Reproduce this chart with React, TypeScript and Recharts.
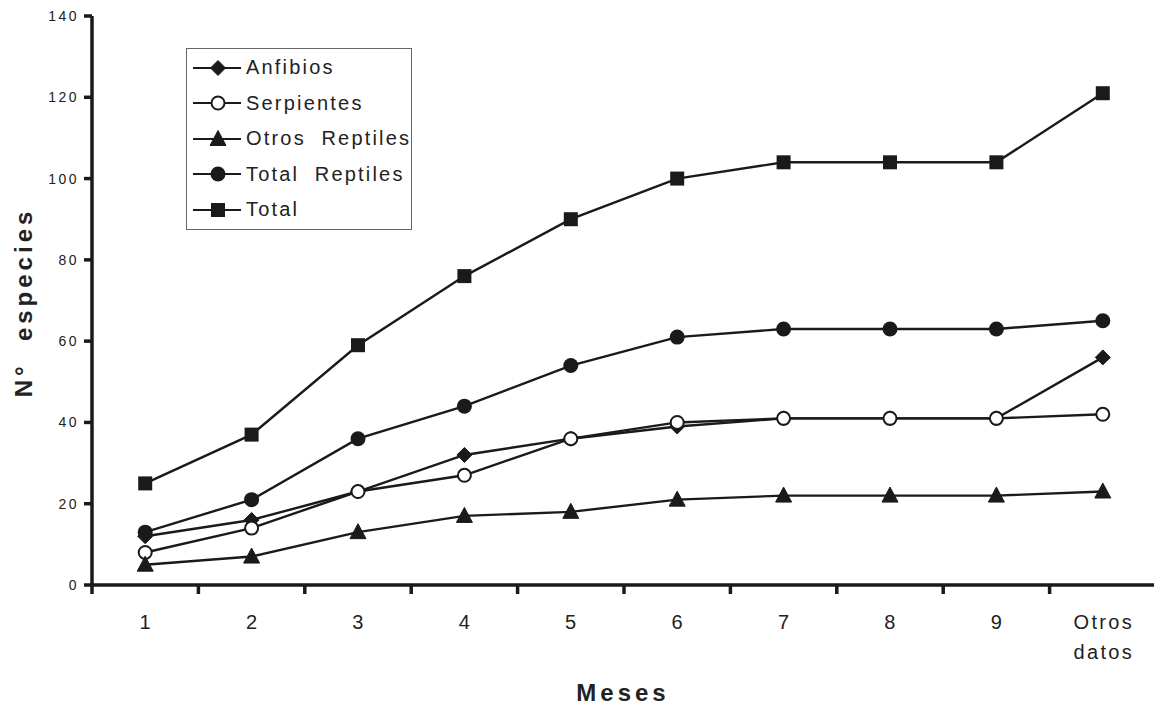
import React from "react";
import { LineChart, Line, XAxis, YAxis, Legend, Label } from "recharts";

const categories = ["1", "2", "3", "4", "5", "6", "7", "8", "9", "Otros datos"];
const anfibios = [12, 16, 23, 32, 36, 39, 41, 41, 41, 56];
const serpientes = [8, 14, 23, 27, 36, 40, 41, 41, 41, 42];
const otrosReptiles = [5, 7, 13, 17, 18, 21, 22, 22, 22, 23];
const totalReptiles = [13, 21, 36, 44, 54, 61, 63, 63, 63, 65];
const total = [25, 37, 59, 76, 90, 100, 104, 104, 104, 121];
const yTicks = [0, 20, 40, 60, 80, 100, 120, 140];

const data = categories.map((mes, i) => ({
  mes,
  anfibios: anfibios[i],
  serpientes: serpientes[i],
  otrosReptiles: otrosReptiles[i],
  totalReptiles: totalReptiles[i],
  total: total[i],
}));

const W = 1154;
const H = 707;
const MARGIN = { top: 16, right: -2, bottom: 0, left: 0 };
const Y_AXIS_W = 92;
const X_AXIS_H = 122;
const BAND = (W - MARGIN.left - MARGIN.right - Y_AXIS_W) / categories.length;

const FONT = "'Liberation Sans', Arial, Helvetica, sans-serif";
const INK = "#1a1a1a";
const TEXT = "#222";

type MarkProps = { cx?: number; cy?: number };

const Diamond = ({ cx = 0, cy = 0 }: MarkProps) => (
  <polygon
    points={`${cx},${cy - 7.5} ${cx + 7.5},${cy} ${cx},${cy + 7.5} ${cx - 7.5},${cy}`}
    fill={INK}
    stroke={INK}
    strokeWidth={1}
  />
);
const OpenCircle = ({ cx = 0, cy = 0 }: MarkProps) => (
  <circle cx={cx} cy={cy} r={6.5} fill="#fff" stroke={INK} strokeWidth={2} />
);
const Triangle = ({ cx = 0, cy = 0 }: MarkProps) => (
  <polygon
    points={`${cx},${cy - 8.5} ${cx + 8},${cy + 6.5} ${cx - 8},${cy + 6.5}`}
    fill={INK}
    stroke={INK}
    strokeWidth={1}
  />
);
const FilledCircle = ({ cx = 0, cy = 0 }: MarkProps) => (
  <circle cx={cx} cy={cy} r={7.5} fill={INK} />
);
const Square = ({ cx = 0, cy = 0 }: MarkProps) => (
  <rect x={cx - 7} y={cy - 7} width={14} height={14} fill={INK} />
);

const SERIES = [
  { key: "anfibios", name: "Anfibios", Mark: Diamond },
  { key: "serpientes", name: "Serpientes", Mark: OpenCircle },
  { key: "otrosReptiles", name: "Otros  Reptiles", Mark: Triangle },
  { key: "totalReptiles", name: "Total  Reptiles", Mark: FilledCircle },
  { key: "total", name: "Total", Mark: Square },
];

const XTick = (props: any) => {
  const { x, y, payload } = props;
  const lines = String(payload.value).split(" ");
  const edge = x - BAND / 2;
  return (
    <g>
      <line x1={edge} y1={y} x2={edge} y2={y + 9} stroke={INK} strokeWidth={3.5} />
      <text
        x={x + 1}
        y={y + 44}
        textAnchor="middle"
        fontFamily={FONT}
        fontSize={20}
        letterSpacing={2.3}
        fill={TEXT}
      >
        {lines.map((l, i) => (
          <tspan key={i} x={x + 1} dy={i === 0 ? 0 : 30}>
            {l}
          </tspan>
        ))}
      </text>
    </g>
  );
};

const LegendBox = () => (
  <div
    style={{
      border: "1.5px solid #666",
      padding: "1px 0",
      width: 224,
      background: "#fff",
      fontFamily: FONT,
    }}
  >
    {SERIES.map(({ key, name, Mark }) => (
      <div key={key} style={{ display: "flex", alignItems: "center", height: 35.5 }}>
        <svg width={58} height={20} style={{ marginLeft: 4, flex: "none" }}>
          <line x1={2} y1={10} x2={50} y2={10} stroke={INK} strokeWidth={2.2} />
          <Mark cx={27} cy={10} />
        </svg>
        <span
          style={{
            fontSize: 20,
            letterSpacing: 2.2,
            color: TEXT,
            whiteSpace: "pre",
            marginLeft: -3,
          }}
        >
          {name}
        </span>
      </div>
    ))}
  </div>
);

export default function App() {
  return (
    <div style={{ position: "absolute", left: 0, top: 0, width: W, height: H, background: "#fff" }}>
      <LineChart width={W} height={H} data={data} margin={MARGIN}>
        <XAxis
          dataKey="mes"
          scale="band"
          height={X_AXIS_H}
          interval={0}
          tickSize={0}
          tickMargin={0}
          tickLine={false}
          axisLine={{ stroke: INK, strokeWidth: 3.5 }}
          tick={<XTick />}
        >
          <Label
            content={({ viewBox }: any) => (
              <text
                x={(viewBox?.x ?? 92) + (viewBox?.width ?? 1064) / 2 - 1}
                y={701}
                textAnchor="middle"
                fontFamily={FONT}
                fontWeight="bold"
                fontSize={24}
                letterSpacing={4}
                fill={TEXT}
              >
                Meses
              </text>
            )}
          />
        </XAxis>
        <YAxis
          width={Y_AXIS_W}
          domain={[0, 140]}
          ticks={yTicks}
          interval={0}
          tickSize={8}
          tickMargin={5}
          axisLine={{ stroke: INK, strokeWidth: 3.5 }}
          tickLine={{ stroke: INK, strokeWidth: 3.5 }}
          tick={{ fontFamily: FONT, fontSize: 14, letterSpacing: 2.5, fill: TEXT }}
        >
          <Label
            content={({ viewBox }: any) => {
              const cy = (viewBox?.y ?? 16) + (viewBox?.height ?? 569) / 2;
              return (
                <text
                  x={32}
                  y={cy + 2}
                  transform={`rotate(-90, 32, ${cy + 2})`}
                  textAnchor="middle"
                  fontFamily={FONT}
                  fontWeight="bold"
                  fontSize={24}
                  letterSpacing={4}
                  fill={TEXT}
                  style={{ whiteSpace: "pre" }}
                >
                  {"N°  especies"}
                </text>
              );
            }}
          />
        </YAxis>
        <Legend
          layout="vertical"
          align="center"
          verticalAlign="middle"
          content={() => <LegendBox />}
          wrapperStyle={{ left: 186, top: 48, width: 228 }}
        />
        {SERIES.map(({ key, name, Mark }) => (
          <Line
            key={key}
            dataKey={key}
            name={name}
            type="linear"
            stroke={INK}
            strokeWidth={2.4}
            isAnimationActive={false}
            dot={(p: any) => <Mark key={`${key}-${p.index}`} cx={p.cx} cy={p.cy} />}
            activeDot={false}
          />
        ))}
      </LineChart>
    </div>
  );
}
